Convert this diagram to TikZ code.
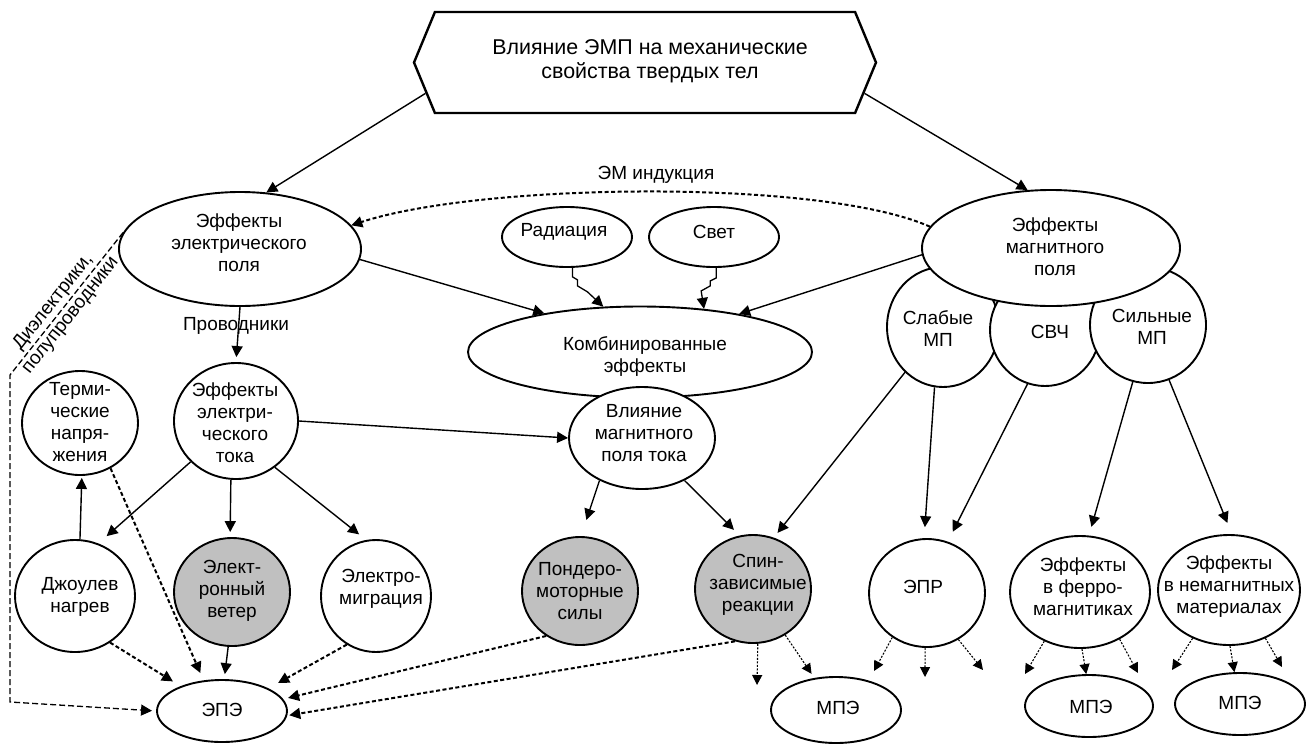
\documentclass[tikz,border=0pt]{standalone}
\usepackage{fontspec}
\setmainfont{Liberation Sans}
\usetikzlibrary{arrows.meta,shapes.geometric,shapes.symbols}
\definecolor{shadegray}{RGB}{192,192,192}
\begin{document}
\begin{tikzpicture}[x=1pt,y=-1pt,
  nd/.style={draw, line width=1.9pt, fill=white, ellipse, inner sep=0pt},
  gnd/.style={nd, fill=shadegray},
  txt/.style={align=center, inner sep=0pt, font=\fontsize{19}{22}\selectfont},
  arr/.style={line width=1.4pt, -{Triangle[length=11pt,width=11pt]}},
  darr/.style={line width=2pt, dash pattern=on 4pt off 2.5pt, -{Triangle[length=11pt,width=11pt]}},
  dotarr/.style={line width=1.1pt, dash pattern=on 2pt off 1.5pt, -{Triangle[length=10pt,width=10pt]}},
]
\useasboundingbox (0,0) rectangle (1311,745);
\fill[white] (0,0) rectangle (1311,745);

% top hexagon
\node[draw, line width=2.4pt, fill=white, signal, signal to=west and east, signal pointer angle=135,
      minimum width=462, minimum height=101, inner sep=0pt] (hex) at (645,62.5) {};
\node[txt, font=\fontsize{21.4}{24}\selectfont] (hex-t) at (650,61) {Влияние ЭМП на механические\\свойства твердых тел};

% labels
\node[txt] (emi) at (656,175) {ЭМ индукция};
\node[txt] (prov) at (236,326) {Проводники};
\node[txt, rotate=51.7] (diel) at (62,309) {Диэлектрики,\\полупроводники};

% left part
\node[nd, minimum width=242, minimum height=114] (e1) at (240,249) {};
\node[txt] (e1-t) at (239,243) {Эффекты\\электрического\\поля};

\node[nd, minimum width=130, minimum height=60] (rad) at (567,237) {};
\node[txt] (rad-t) at (564,232) {Радиация};
\node[nd, minimum width=130, minimum height=60] (svet) at (714,237) {};
\node[txt] (svet-t) at (714,232) {Свет};

\node[nd, minimum width=344, minimum height=91] (k) at (640,352) {};
\node[txt] (k-t) at (645,356) {Комбинированные\\эффекты};
\node[nd, minimum width=146, minimum height=102] (v) at (642,438) {};
\node[txt] (v-t) at (644,433) {Влияние\\магнитного\\поля тока};

\node[nd, minimum width=124, minimum height=116] (t) at (236,421) {};
\node[txt] (t-t) at (235,423) {Эффекты\\электри-\\ческого\\тока};
\node[nd, minimum width=116, minimum height=104] (tn) at (80,423) {};
\node[txt] (tn-t) at (80,422) {Терми-\\ческие\\напря-\\жения};

\node[nd, minimum width=120, minimum height=112] (j) at (75,596) {};
\node[txt] (j-t) at (80,597) {Джоулев\\нагрев};
\node[gnd, minimum width=116, minimum height=108] (ew) at (232,592) {};
\node[txt] (ew-t) at (232,591) {Элект-\\ронный\\ветер};
\node[nd, minimum width=110, minimum height=112] (em) at (376,596) {};
\node[txt] (em-t) at (381,589) {Электро-\\миграция};
\node[nd, minimum width=130, minimum height=62] (epe) at (222,711) {};
\node[txt] (epe-t) at (222,710) {ЭПЭ};

\node[gnd, minimum width=116, minimum height=108] (p) at (580,591) {};
\node[txt] (p-t) at (580,591) {Пондеро-\\моторные\\силы};
\node[gnd, minimum width=116, minimum height=108] (s) at (753,589) {};
\node[txt] (s-t) at (758,585) {Спин-\\зависимые\\реакции};

% right part
\node[nd, minimum width=112, minimum height=120] (sm) at (943,327) {};
\node[txt] (sm-t) at (938,329) {Слабые\\МП};
\node[nd, minimum width=110, minimum height=112] (svch) at (1045,330) {};
\node[txt] (svch-t) at (1050,332) {СВЧ};
\node[nd, minimum width=116, minimum height=116] (sil) at (1148,325) {};
\node[txt] (sil-t) at (1152,327) {Сильные\\МП};
\node[nd, minimum width=258, minimum height=116] (e2) at (1051,248) {};
\node[txt] (e2-t) at (1055,247) {Эффекты\\магнитного\\поля};

\node[nd, minimum width=116, minimum height=108] (epr) at (927,593) {};
\node[txt] (epr-t) at (923,587) {ЭПР};
\node[nd, minimum width=140, minimum height=112] (f) at (1080,592) {};
\node[txt] (f-t) at (1083,587) {Эффекты\\в ферро-\\магнитиках};
\node[nd, minimum width=142, minimum height=110] (n) at (1229,590) {};
\node[txt] (n-t) at (1229,587) {Эффекты\\в немагнитных\\материалах};

\node[nd, minimum width=130, minimum height=66] (m1) at (836,710) {};
\node[txt] (m1-t) at (838,708) {МПЭ};
\node[nd, minimum width=128, minimum height=62] (m2) at (1089,706) {};
\node[txt] (m2-t) at (1091,707) {МПЭ};
\node[nd, minimum width=130, minimum height=62] (m3) at (1240,704) {};
\node[txt] (m3-t) at (1240,703) {МПЭ};

% free ends
\coordinate (d1) at (10,375);
\coordinate (d2) at (10,702);
\coordinate (sf1) at (757,685);
\coordinate (pf1) at (874,671);
\coordinate (pf2) at (925,677);
\coordinate (pf3) at (983,670);
\coordinate (ff1) at (1025,674);
\coordinate (ff3) at (1138,673);
\coordinate (nf1) at (1172,670);
\coordinate (nf3) at (1282,667);

% connectors
\draw[arr] (hex.188) -- (e1.65);
\draw[arr] (hex.-8) -- (e2.112);
\draw[darr] (e2.170) .. controls (820,178) and (480,183) .. (e1.12);
\draw[arr] (e1.-5.6) -- (k.158.5);
\draw[arr] (e2.183) -- (k.21.5);
\draw[arr, line width=1.3pt] (rad.-80) -- ++(0,9) -- ++(5,3) -- ++(0,6) -- ++(10,6) -- (k.129.5);
\draw[arr, line width=1.3pt] (svet.-86) -- ++(0,10) -- ++(-6,3) -- ++(0,5) -- ++(-9,5) -- (k.34.5);

\draw[arr, shorten >=5pt] (e1.south) -- (t.north);
\draw[arr] (t.east) -- (v.west);
\draw[arr, shorten >=11pt] (t.222) -- (j.66);
\draw[arr, shorten >=5pt] (t.-95) -- (ew.92);
\draw[arr, shorten >=9pt] (t.-50) -- (em.100);
\draw[arr, shorten >=2pt] (j.85) -- (tn.-88);
\draw[darr, shorten >=8pt] (tn.-56) -- (epe.121);
\draw[darr, shorten >=9pt] (j.-53) -- (epe.149);
\draw[arr, shorten >=5pt] (ew.-94) -- (epe.86);
\draw[darr, shorten >=11pt] (em.239) -- (epe.26);
\draw[darr, shorten >=5pt] (p.233) -- (epe.11);
\draw[darr, shorten >=2pt] (s.251) -- (epe.-4);
\draw[darr, line width=1.3pt, dash pattern=on 6pt off 3pt, shorten >=4pt] (e1.172) -- (d1) -- (d2) -- (epe.west);

\draw[arr, shorten >=17pt] (v.225) -- (p.89);
\draw[arr, shorten >=8pt] (v.-45) -- (s.104.5);
\draw[arr, shorten >=6pt] (sm.230) -- (s.68);
\draw[arr, shorten >=11pt] (sm.262) -- (epr.93);
\draw[arr, shorten >=11pt] (svch.252) -- (epr.68);
\draw[arr, shorten >=9pt] (sil.255) -- (f.81.5);
\draw[arr, shorten >=12pt] (sil.291) -- (n.87);

\draw[dotarr] (s.-85) -- (sf1);
\draw[dotarr, shorten >=5pt] (s.-55) -- (m1.124);
\draw[dotarr] (epr.232) -- (pf1);
\draw[dotarr] (epr.-92) -- (pf2);
\draw[dotarr] (epr.-56) -- (pf3);
\draw[dotarr] (f.234) -- (ff1);
\draw[dotarr] (f.-88) -- (m2.95);
\draw[dotarr] (f.-50) -- (ff3);
\draw[dotarr] (n.233) -- (nf1);
\draw[dotarr] (n.-89) -- (m3.100);
\draw[dotarr] (n.-53) -- (nf3);
\end{tikzpicture}
\end{document}
